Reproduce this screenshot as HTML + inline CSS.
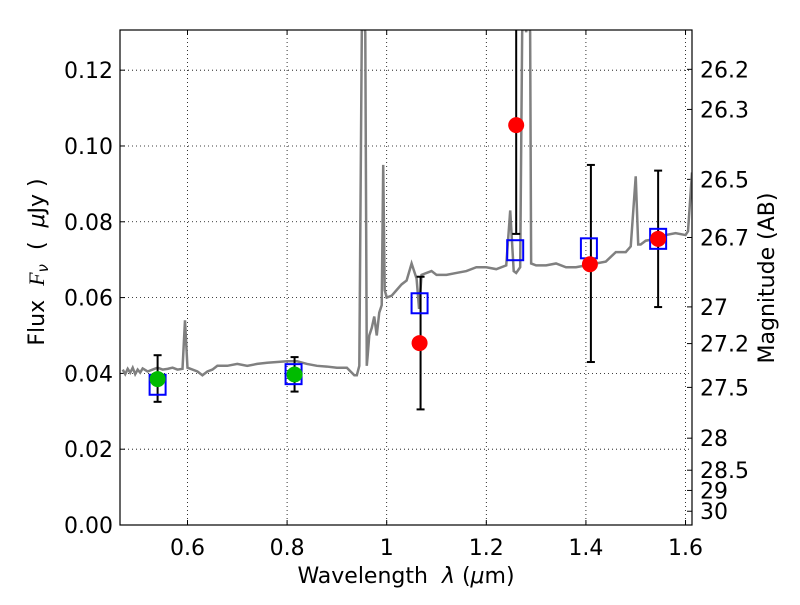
<!DOCTYPE html>
<html><head><meta charset="utf-8"><style>
body{margin:0;background:#fff;}
svg text{font-family:"DejaVu Sans","Liberation Sans",sans-serif;}
</style></head><body>
<svg id="c" width="800" height="600" xmlns="http://www.w3.org/2000/svg"></svg>
<script>
const xTicks=[0.6,0.8,1.0,1.2,1.4,1.6];
const xTickLabels=["0.6","0.8","1","1.2","1.4","1.6"];
const yTicks=[0,0.02,0.04,0.06,0.08,0.10,0.12];
const yTickLabels=["0.00","0.02","0.04","0.06","0.08","0.10","0.12"];
const magTicks=[26.2,26.3,26.5,26.7,27,27.2,27.5,28,28.5,29,30];
const specLam=[0.47,0.475,0.48,0.485,0.49,0.495,0.50,0.505,0.51,0.52,0.53,0.54,0.55,0.56,0.57,0.58,0.59,0.595,0.60,0.61,0.62,0.63,0.64,0.65,0.66,0.68,0.70,0.72,0.74,0.76,0.78,0.80,0.82,0.84,0.86,0.88,0.90,0.92,0.935,0.94,0.945,0.95,0.952,0.957,0.96,0.962,0.965,0.97,0.975,0.98,0.985,0.99,0.993,0.996,1.0,1.01,1.02,1.03,1.04,1.05,1.06,1.065,1.07,1.08,1.09,1.1,1.12,1.14,1.16,1.18,1.2,1.22,1.24,1.248,1.255,1.26,1.268,1.272,1.276,1.28,1.284,1.288,1.29,1.3,1.32,1.34,1.36,1.38,1.4,1.42,1.44,1.46,1.48,1.49,1.5,1.505,1.51,1.52,1.54,1.56,1.58,1.6,1.605,1.613];
const specFlux=[0.041,0.0398,0.0412,0.0402,0.0415,0.0398,0.041,0.0402,0.0413,0.0405,0.041,0.0415,0.041,0.0412,0.0415,0.041,0.0412,0.054,0.0415,0.041,0.0405,0.0395,0.0405,0.041,0.042,0.042,0.0425,0.042,0.0425,0.0428,0.043,0.0432,0.0432,0.0425,0.042,0.0418,0.0415,0.0415,0.0395,0.0395,0.042,0.13,0.135,0.13,0.042,0.045,0.05,0.052,0.055,0.05,0.056,0.058,0.095,0.062,0.06,0.0605,0.062,0.0635,0.0645,0.069,0.065,0.057,0.066,0.0665,0.067,0.066,0.066,0.0665,0.067,0.068,0.068,0.0675,0.0685,0.083,0.067,0.0665,0.068,0.13,0.135,0.13,0.135,0.13,0.069,0.0685,0.0685,0.069,0.068,0.068,0.0685,0.069,0.0695,0.072,0.072,0.0735,0.092,0.074,0.074,0.075,0.0755,0.0765,0.077,0.0765,0.0775,0.093];
const photLam=[0.54,0.813,1.066,1.258,1.406,1.545];
const modelFlux=[0.037,0.0398,0.0585,0.0725,0.073,0.0755];
const greenLam=[0.54,0.815];
const greenFlux=[0.0385,0.0397];
const redLam=[1.066,1.26,1.408,1.545];
const redFlux=[0.048,0.1055,0.0688,0.0755];
const errLam=[0.54,0.815,1.068,1.26,1.41,1.545];
const errLo=[0.0325,0.0352,0.0305,0.0768,0.043,0.0575];
const errHi=[0.0448,0.0443,0.0655,0.14,0.095,0.0935];

const L=120,R=692,T=30,B=525,X0=0.4645,X1=1.613,Y0=0,Y1=0.1306;
const sx=v=>L+(v-X0)/(X1-X0)*(R-L);
const sy=v=>B-(v-Y0)/(Y1-Y0)*(B-T);
const svg=document.getElementById('c');
const NS="http://www.w3.org/2000/svg";
function mk(t,a,parent){const e=document.createElementNS(NS,t);for(const k in a)e.setAttribute(k,a[k]);(parent||svg).appendChild(e);return e;}
const defs=mk('defs',{});const cp=mk('clipPath',{id:'pc'},defs);mk('rect',{x:L,y:T,width:R-L,height:B-T},cp);

xTicks.forEach((v,i)=>{const x=sx(v);
 let g=mk('line',{x1:x,x2:x,y1:T,y2:B,stroke:'#000','stroke-width':0.8,'stroke-dasharray':'1,3'});
 
 mk('line',{x1:x,x2:x,y1:B,y2:B-5,stroke:'#000'});mk('line',{x1:x,x2:x,y1:T,y2:T+5,stroke:'#000'});
 let t=mk('text',{x:x,y:B+30,'font-size':22,'text-anchor':'middle'});t.textContent=xTickLabels[i];
 });
yTicks.forEach((v,i)=>{const y=sy(v);
 if(v>0){let g=mk('line',{x1:L,x2:R,y1:y,y2:y,stroke:'#000','stroke-width':0.8,'stroke-dasharray':'1,3'});
 }
 mk('line',{x1:L,x2:L+5,y1:y,y2:y,stroke:'#000'});
 let t=mk('text',{x:L-7,y:y+8,'font-size':22,'text-anchor':'end'});t.textContent=yTickLabels[i];
 });
magTicks.forEach(m=>{const f=Math.pow(10,(23.9-m)/2.5);const y=sy(f);
 mk('line',{x1:R,x2:R-5,y1:y,y2:y,stroke:'#000'});
 let t=mk('text',{x:R+8,y:y+8,'font-size':22});t.textContent=String(m);
 });

const gClip=mk('g',{'clip-path':'url(#pc)'});
let sp=mk('polyline',{points:specLam.map((l,i)=>sx(l)+','+sy(specFlux[i])).join(' '),fill:'none',stroke:'#808080','stroke-width':2.5},gClip);

errLam.forEach((l,i)=>{const x=sx(l);
 let e=mk('line',{x1:x,x2:x,y1:sy(errLo[i]),y2:sy(errHi[i]),stroke:'#000','stroke-width':2},gClip);
 
 mk('line',{x1:x-4,x2:x+4,y1:sy(errLo[i]),y2:sy(errLo[i]),stroke:'#000','stroke-width':2},gClip);
 mk('line',{x1:x-4,x2:x+4,y1:sy(errHi[i]),y2:sy(errHi[i]),stroke:'#000','stroke-width':2},gClip);});
photLam.forEach((l,i)=>{
 let r=mk('rect',{x:sx(l)-8,y:sy(modelFlux[i])-10,width:16,height:20,fill:'none',stroke:'#0000ff','stroke-width':2},gClip);
 });
greenLam.forEach((l,i)=>{let c=mk('circle',{cx:sx(l),cy:sy(greenFlux[i]),r:8,fill:'#00bb00'},gClip);
 });
redLam.forEach((l,i)=>{let c=mk('circle',{cx:sx(l),cy:sy(redFlux[i]),r:8,fill:'#ff0000'},gClip);
 });

let fr=mk('rect',{x:L,y:T,width:R-L,height:B-T,fill:'none',stroke:'#000','stroke-width':1.2});

let xl=mk('text',{x:406,y:583,'font-size':22,'text-anchor':'middle'});
xl.innerHTML='Wavelength  <tspan font-style="italic">λ</tspan> (<tspan font-style="italic">μ</tspan>m)';
xl.setAttribute('xml:space','preserve');xl.style.whiteSpace='pre';

let yl=mk('text',{x:44,y:262,'font-size':22,'text-anchor':'middle',transform:'rotate(-90 44 262)'});
yl.style.whiteSpace='pre';
yl.innerHTML='Flux  <tspan font-style="italic" font-family="Liberation Serif, serif">F</tspan><tspan font-style="italic" font-size="15" dy="4">ν</tspan><tspan dy="-4">  (  </tspan><tspan font-style="italic">μ</tspan>Jy )';

let rl=mk('text',{x:774,y:278,'font-size':22,'text-anchor':'middle',transform:'rotate(-90 774 278)'});rl.textContent='Magnitude (AB)';

</script>
</body></html>
